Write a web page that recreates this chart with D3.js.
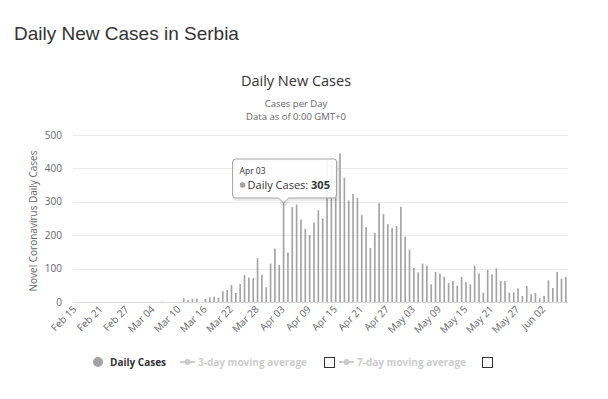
<!DOCTYPE html>
<html>
<head>
<meta charset="utf-8">
<script src="https://cdn.jsdelivr.net/npm/d3@7"></script>
<style>
body{margin:0;background:#fff;}
text{font-family:"Open Sans",sans-serif;}
</style>
</head>
<body>
<script>
// data: daily new cases, Feb 15 .. Jun 07
var startDate = new Date(2020, 1, 15), endDate = new Date(2020, 5, 7);
var dailyCases = [
	0,0,0,0,0,0,0,0,0,0,0,0,0,0,0,0,0,0,0,0,           // Feb 15 - Mar 05
	1,0,0,0,0,                                           // Mar 06 - Mar 10
	11,6,10,10,0,9,14,16,13,                             // Mar 11 - Mar 19
	32,36,51,27,54,81,73,71,131,82,44,115,               // Mar 20 - Mar 31
	160,111,305,148,284,292,247,219,201,238,275,250,424,411,408,
	445,372,304,324,312,260,224,162,207,296,263,233,222,227,285, // April
	196,157,102,89,115,109,53,90,85,76,57,63,49,75,59,53,
	109,85,28,96,83,101,63,63,28,29,41,18,48,23,27,      // May
	11,18,65,42,90,70,75                                 // Jun 01 - Jun 07
];
var yTicks = [0,100,200,300,400,500];
var xTickLabels = ["Feb 15","Feb 21","Feb 27","Mar 04","Mar 10","Mar 16","Mar 22","Mar 28",
	"Apr 03","Apr 09","Apr 15","Apr 21","Apr 27","May 03","May 09","May 15","May 21","May 27","Jun 02"];
var tooltipDate = "Apr 03";

var fmt = d3.timeFormat("%b %d");
var days = d3.timeDay.range(startDate, d3.timeDay.offset(endDate, 1)).map(fmt);

var svg = d3.select("body").append("svg")
	.attr("width", 608).attr("height", 399);
svg.append("rect").attr("width", 608).attr("height", 399).attr("fill", "#fff");

// page title
svg.append("text").attr("x", 14).attr("y", 40)
	.style("font-family", "'Liberation Sans', Arial, sans-serif")
	.attr("font-size", 19).attr("fill", "#333")
	.text("Daily New Cases in Serbia");

// chart titles
svg.append("text").attr("x", 296).attr("y", 86).attr("text-anchor", "middle")
	.attr("font-size", 14.5).attr("fill", "#333").text("Daily New Cases");
svg.append("text").attr("x", 296).attr("y", 107).attr("text-anchor", "middle")
	.attr("font-size", 9.5).attr("fill", "#666").text("Cases per Day");
svg.append("text").attr("x", 296).attr("y", 120).attr("text-anchor", "middle")
	.attr("font-size", 9.5).attr("fill", "#666").text("Data as of 0:00 GMT+0");

var x = d3.scaleBand().domain(days).range([73, 568]).paddingInner(0.62).paddingOuter(0.31);
var y = d3.scaleLinear().domain([0, 500]).range([302, 135]);

// grid
var grid = svg.append("g");
grid.selectAll("line").data(yTicks).join("line")
	.attr("x1", 73).attr("x2", 568)
	.attr("y1", function(d){ return Math.round(y(d)) + 0.5; })
	.attr("y2", function(d){ return Math.round(y(d)) + 0.5; })
	.attr("stroke", function(d){ return d == 0 ? "#d8d8d8" : "#ececec"; });

// y axis labels
svg.append("g").selectAll("text").data(yTicks).join("text")
	.attr("x", 62).attr("y", function(d){ return y(d) + 3.5; })
	.attr("text-anchor", "end").attr("font-size", 10).attr("fill", "#666")
	.text(function(d){ return d; });

svg.append("text")
	.attr("transform", "translate(37,221) rotate(-90)")
	.attr("text-anchor", "middle").attr("font-size", 10).attr("fill", "#666")
	.text("Novel Coronavirus Daily Cases");

// bars
svg.append("g").selectAll("rect").data(dailyCases).join("rect")
	.attr("x", function(d, i){ return x(days[i]); })
	.attr("width", x.bandwidth())
	.attr("y", function(d){ return y(d); })
	.attr("height", function(d){ return y(0) - y(d); })
	.attr("fill", "#a3a3a3");

// x labels
svg.append("g").selectAll("text").data(xTickLabels).join("text")
	.attr("transform", function(d){
		var cx = x(d) + x.bandwidth() / 2;
		return "translate(" + (cx + 2) + ",310) rotate(-45)";
	})
	.attr("text-anchor", "end").attr("font-size", 10).attr("fill", "#666")
	.text(function(d){ return d; });

// tooltip
var ti = days.indexOf(tooltipDate);
var tx = x(tooltipDate) + x.bandwidth() / 2;
var tip = svg.append("g");
var tl = tx - 51, tt = 159, tw = 104, th = 39;
var tipPath = "M" + (tl + 3) + "," + tt + " h" + (tw - 6) + " q3,0 3,3 v" + (th - 6) + " q0,3 -3,3 H" + (tx + 5) +
	" L" + tx + "," + (tt + th + 5) + " L" + (tx - 5) + "," + (tt + th) + " H" + (tl + 3) + " q-3,0 -3,-3 v" + (-(th - 6)) + " q0,-3 3,-3 z";
tip.append("path").attr("d", tipPath).attr("transform", "translate(1.5,1.5)")
	.attr("fill", "none").attr("stroke", "#000").attr("stroke-opacity", 0.08).attr("stroke-width", 3);
tip.append("path").attr("d", tipPath)
	.attr("fill", "#fff").attr("fill-opacity", 0.9).attr("stroke", "#a3a3a3").attr("stroke-width", 1);
tip.append("text").attr("x", tl + 7).attr("y", tt + 15).attr("font-size", 8.5).attr("fill", "#333").text(tooltipDate);
tip.append("circle").attr("cx", tl + 10).attr("cy", tt + 26).attr("r", 2.8).attr("fill", "#a3a3a3");
var tt2 = tip.append("text").attr("x", tl + 15).attr("y", tt + 30).attr("font-size", 11).attr("fill", "#333");
tt2.append("tspan").text("Daily Cases: ");
tt2.append("tspan").attr("font-weight", "bold").text(dailyCases[ti]);

// legend
var lg = svg.append("g");
lg.append("circle").attr("cx", 98).attr("cy", 362).attr("r", 5).attr("fill", "#a3a3a3");
lg.append("text").attr("x", 110).attr("y", 365.5).attr("font-size", 10).attr("font-weight", "bold")
	.attr("fill", "#333").text("Daily Cases");
[{x: 180, t: "3-day moving average", box: 324}, {x: 339, t: "7-day moving average", box: 482}].forEach(function(l){
	lg.append("line").attr("x1", l.x).attr("x2", l.x + 15).attr("y1", 362).attr("y2", 362)
		.attr("stroke", "#ccc").attr("stroke-width", 2);
	lg.append("circle").attr("cx", l.x + 7.5).attr("cy", 362).attr("r", 3).attr("fill", "#ccc");
	lg.append("text").attr("x", l.x + 18).attr("y", 365.5).attr("font-size", 10).attr("font-weight", "bold")
		.attr("fill", "#ccc").text(l.t);
	lg.append("rect").attr("x", l.box + 0.5).attr("y", 357.5).attr("width", 10).attr("height", 10)
		.attr("fill", "#fff").attr("stroke", "#333");
});
</script>
</body>
</html>
